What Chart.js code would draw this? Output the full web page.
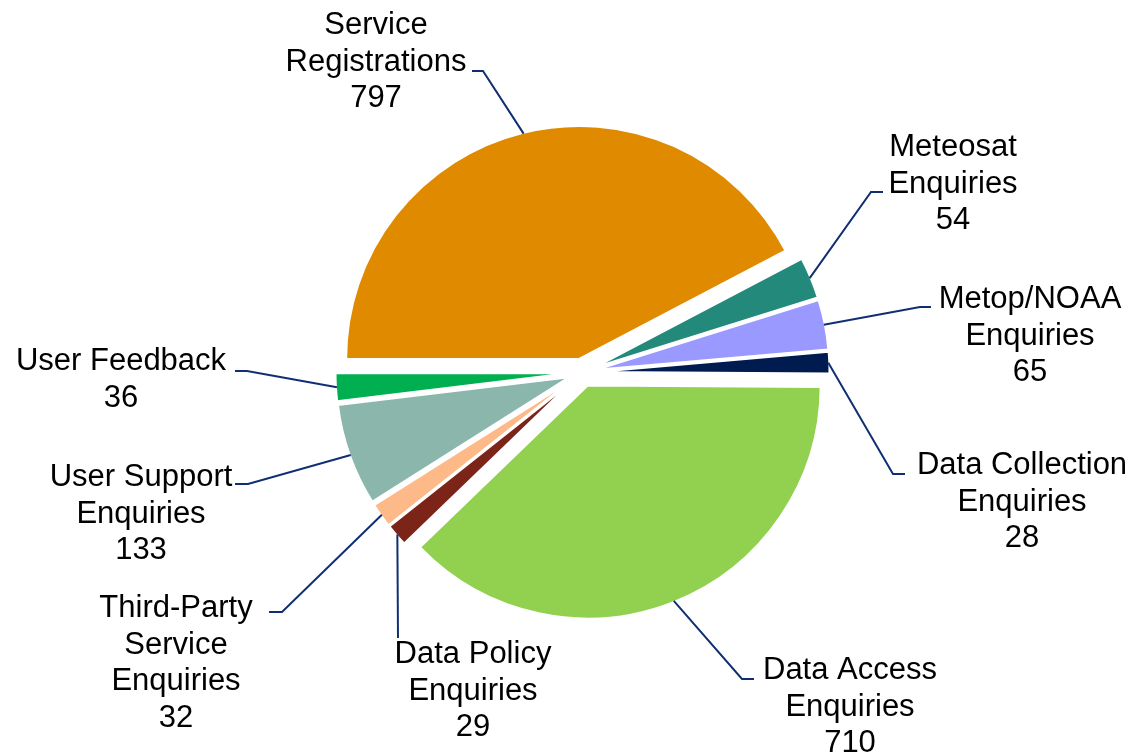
<!DOCTYPE html>
<html>
<head>
<meta charset="utf-8">
<script src="https://cdn.jsdelivr.net/npm/chart.js@4"></script>
<style>
html,body{margin:0;padding:0;background:#fff;}
#wrap{position:relative;width:1134px;height:753px;}
</style>
</head>
<body>
<div id="wrap"><canvas id="c"></canvas></div>
<script>
// ---- data ----
const categories = [
  'Service Registrations', 'Meteosat Enquiries', 'Metop/NOAA Enquiries',
  'Data Collection Enquiries', 'Data Access Enquiries', 'Data Policy Enquiries',
  'Third-Party Service Enquiries', 'User Support Enquiries', 'User Feedback'
];
const values = [797, 54, 65, 28, 710, 29, 32, 133, 36];
const labelLines = [
  ['Service', 'Registrations'], ['Meteosat', 'Enquiries'], ['Metop/NOAA', 'Enquiries'],
  ['Data Collection', 'Enquiries'], ['Data Access', 'Enquiries'], ['Data Policy', 'Enquiries'],
  ['Third-Party', 'Service', 'Enquiries'], ['User Support', 'Enquiries'], ['User Feedback']
];
const colors = ['#E08A00', '#23897B', '#9999FF', '#001B4F', '#92D050', '#7C2418', '#FDBA88', '#8AB6AB', '#00B050'];

// ---- label layout (text centre x, first baseline y, leader elbow, leader attach) ----
const labelX = [376, 953, 1030, 1022, 850, 473, 176, 141, 121];
const labelY = [34, 156, 308, 474, 679, 663, 617, 486, 370];
const elbows = [[483,71],[871,192],[920,307],[893,474],[742,679],[398,638],[282,612],[248,484],[247,371]];
const attaches = [[472,71],[883,192],[931,307],[905,474],[754,679],[398,638],[269,612],[235,484],[235,371]];
const LINE_H = 36.5;
const EXPLODE = 14;
const FONT = '31px "Liberation Sans", Arial, sans-serif';
const LEADER = '#102F72';

const explodePlugin = {
  id: 'explode',
  beforeDatasetDraw(chart, args) {
    const ctx = chart.ctx;
    args.meta.data.forEach(arc => {
      const mid = (arc.startAngle + arc.endAngle) / 2;
      ctx.save();
      ctx.translate(Math.cos(mid) * EXPLODE, Math.sin(mid) * EXPLODE);
      arc.draw(ctx);
      ctx.restore();
    });
    return false;
  }
};

const labelPlugin = {
  id: 'labels',
  afterDraw(chart) {
    const ctx = chart.ctx;
    const meta = chart.getDatasetMeta(0);
    meta.data.forEach((arc, i) => {
      const mid = (arc.startAngle + arc.endAngle) / 2;
      const r = arc.outerRadius - 1 + EXPLODE;
      const ex = arc.x + Math.cos(mid) * r;
      const ey = arc.y + Math.sin(mid) * r;
      ctx.save();
      ctx.strokeStyle = LEADER;
      ctx.lineWidth = 2;
      ctx.beginPath();
      ctx.moveTo(ex, ey);
      ctx.lineTo(elbows[i][0], elbows[i][1]);
      ctx.lineTo(attaches[i][0], attaches[i][1]);
      ctx.stroke();
      ctx.fillStyle = '#000';
      ctx.font = FONT;
      ctx.textAlign = 'center';
      ctx.textBaseline = 'alphabetic';
      const lines = labelLines[i].concat([String(values[i])]);
      lines.forEach((t, k) => ctx.fillText(t, labelX[i], labelY[i] + k * LINE_H));
      ctx.restore();
    });
  }
};

new Chart(document.getElementById('c'), {
  type: 'pie',
  data: {
    labels: categories,
    datasets: [{
      data: values,
      backgroundColor: colors,
      borderColor: '#ffffff',
      borderWidth: 2
    }]
  },
  options: {
    responsive: true,
    maintainAspectRatio: false,
    animation: false,
    rotation: 270,
    radius: 233,
    layout: { padding: { left: 31, right: 0, top: 0, bottom: 8 } },
    plugins: { legend: { display: false }, tooltip: { enabled: false } },
    events: []
  },
  plugins: [explodePlugin, labelPlugin]
});
</script>
</body>
</html>
